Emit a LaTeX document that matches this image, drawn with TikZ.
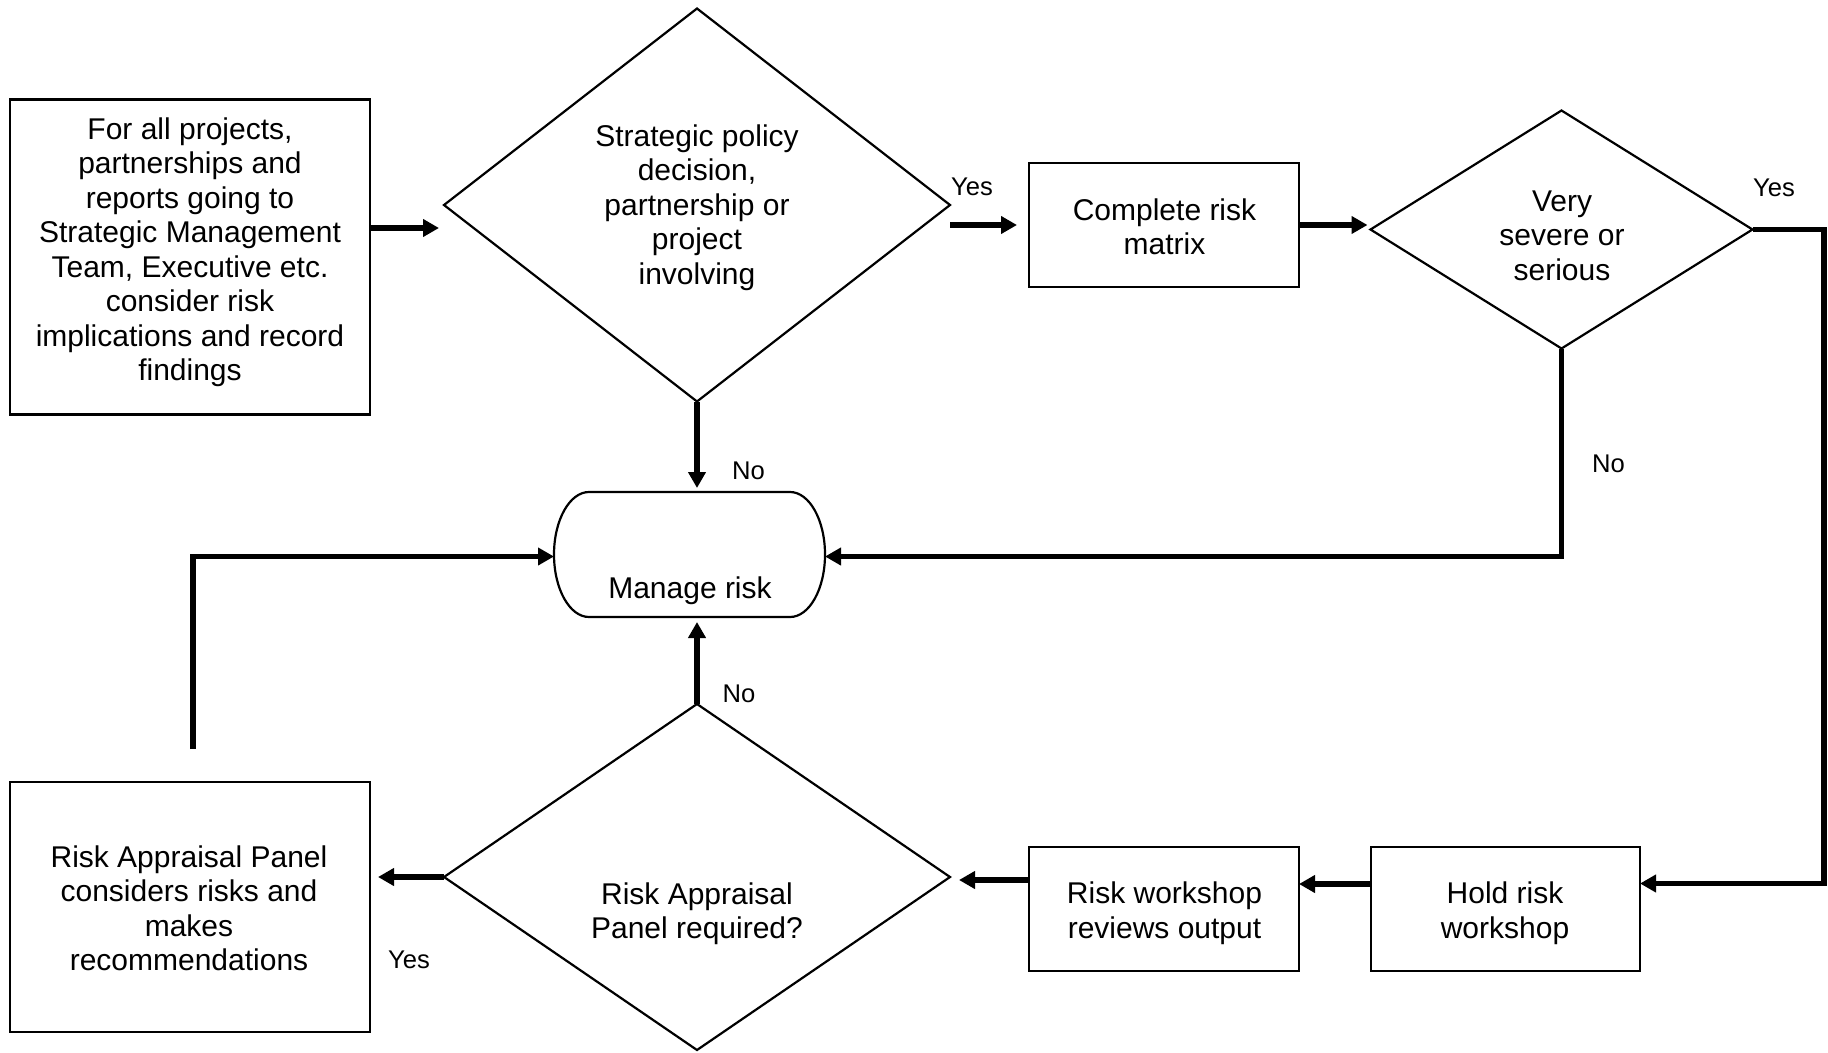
\documentclass[tikz,border=0pt]{standalone}
\usepackage{fontspec}
\setmainfont{Liberation Sans}
\usetikzlibrary{shapes.geometric,arrows.meta,calc}
\begin{document}
\begin{tikzpicture}[x=1pt,y=-1pt,
  box/.style={draw, line width=2.3pt, rectangle, inner sep=0pt, outer sep=0pt},
  dia/.style={draw, line width=2.2pt, diamond, inner sep=0pt, outer sep=0pt},
  txt/.style={align=center, inner sep=0pt, font=\fontsize{30}{34.5}\selectfont},
  lbl/.style={inner sep=0pt, font=\fontsize{25.6}{30}\selectfont},
  conn/.style={line width=5.3pt, -{Triangle[length=16pt,width=17pt]}}]
\useasboundingbox (0,0) rectangle (1828,1052);

% shapes
\node[box, minimum width=360pt, minimum height=315pt] (b1) at (190,257) {};
\node[dia, minimum width=506pt, minimum height=393pt] (d1) at (697,205) {};
\node[box, minimum width=270pt, minimum height=124pt] (crm) at (1164,225) {};
\node[dia, minimum width=382pt, minimum height=238pt] (d2) at (1561.5,229.5) {};
\node[inner sep=0pt, outer sep=0pt, minimum width=271pt, minimum height=125pt] (mr) at (689.5,554.5) {};
\draw[line width=2.2pt] (589,492) -- (790,492)
  .. controls (809.33,492) and (825,519.98) .. (825,554.5)
  .. controls (825,589.02) and (809.33,617) .. (790,617)
  -- (589,617)
  .. controls (569.67,617) and (554,589.02) .. (554,554.5)
  .. controls (554,519.98) and (569.67,492) .. (589,492) -- cycle;
\node[box, minimum width=360pt, minimum height=250pt] (rap) at (190,907) {};
\node[dia, minimum width=506pt, minimum height=346pt] (d3) at (697,877) {};
\node[box, minimum width=270pt, minimum height=124pt] (rwr) at (1164,909.3) {};
\node[box, minimum width=269pt, minimum height=124pt] (hrw) at (1505.5,909.3) {};

% texts
\node[txt] (t1) at (190,252) {For all projects,\\partnerships and\\reports going to\\Strategic Management\\Team, Executive etc.\\consider risk\\implications and record\\findings};
\node[txt] (td1) at (697,207.5) {Strategic policy\\decision,\\partnership or\\project\\involving};
\node[txt] (tcrm) at (1164.5,227) {Complete risk\\matrix};
\node[txt] (td2) at (1562,235.5) {Very\\severe or\\serious};
\node[txt] (tmr) at (690,591) {Manage risk};
\node[txt] (td3) at (697,913.5) {Risk Appraisal\\Panel required?};
\node[txt] (trwr) at (1164.5,913) {Risk workshop\\reviews output};
\node[txt] (thrw) at (1505,913) {Hold risk\\workshop};
\node[txt] (trap) at (189,908.5) {Risk Appraisal Panel\\considers risks and\\makes\\recommendations};

% labels
\node[lbl] (y1) at (972,187) {Yes};
\node[lbl] (y2) at (1774,188) {Yes};
\node[lbl] (y3) at (409,959.5) {Yes};
\node[lbl] (n1) at (748.5,471) {No};
\node[lbl] (n2) at (1608.5,464) {No};
\node[lbl] (n3) at (739,693.6) {No};

% connectors
\coordinate (cr) at (1824,229.5);
\coordinate (rs) at (193,749);
\draw[conn] (b1.east |- 0,228) -- ($(d1.west |- 0,228)+(-5,0)$);
\draw[conn] (d1.east |- crm.west) -- ($(crm.west)+(-12,0)$);
\draw[conn] (crm.east) -- ($(d2.west |- crm.east)+(-3,0)$);
\draw[conn] (d2.east) -- (cr) |- (hrw.east |- 0,883.5);
\draw[conn] (hrw.west |- 0,884) -- (rwr.east |- 0,884);
\draw[conn] (rwr.west |- 0,880) -- ($(d3.east |- 0,880)+(9,0)$);
\draw[conn] (d3.west) -- ($(rap.east |- d3.west)+(8,0)$);
\draw[conn] (d3.north) -- ($(d3.north |- mr.south)+(0,5)$);
\draw[conn] (d1.south) -- ($(d1.south |- mr.north)+(0,-4)$);
\draw[conn] (d2.south) |- (mr.east |- 0,556.5);
\draw[conn] (rs) |- (mr.west |- 0,556.5);
\end{tikzpicture}
\end{document}
